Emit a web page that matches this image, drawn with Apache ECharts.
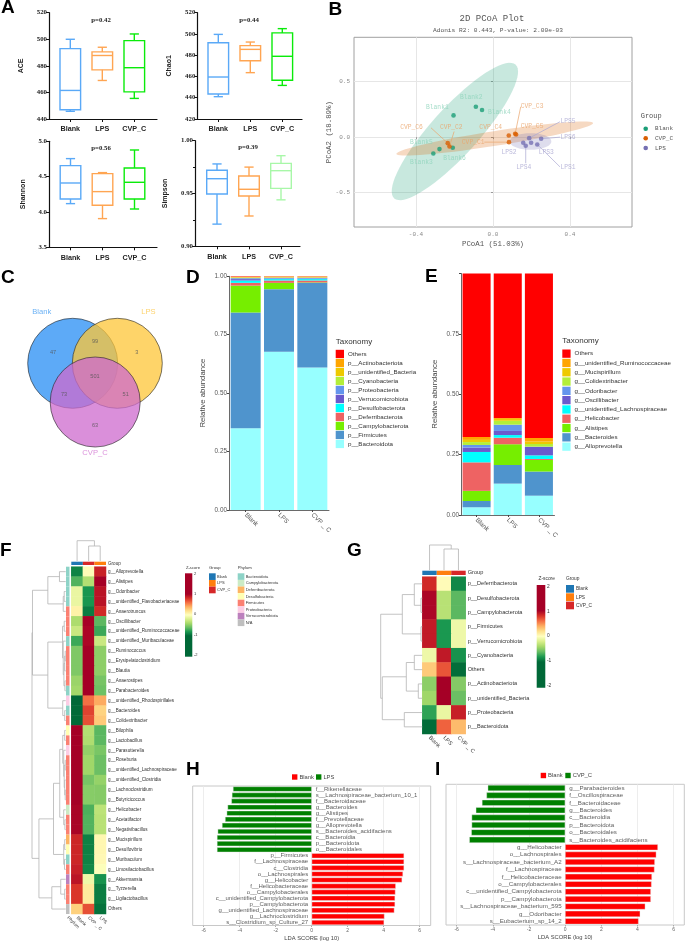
<!DOCTYPE html>
<html><head><meta charset="utf-8">
<style>html,body{margin:0;padding:0;background:#fff}#c{width:685px;height:942px}</style>
<script src="https://cdn.jsdelivr.net/npm/echarts@6/dist/echarts.min.js"></script>
</head><body><div id="c"></div>
<script>
// ---------- DATA ----------
const boxCats=['Blank','LPS','CVP_C'];
// [low, q1, median, q3, high]
const aceBoxes=[[445.8,447,461.5,493,500],[469,477,487.8,490.5,494],[455.5,460.4,478.6,499,504]];
const chaoBoxes=[[441,443.5,459.5,491.8,499.6],[463.6,474.8,485.5,489,492.4],[451.6,456.4,479,501,505]];
const shannonBoxes=[[4.118,4.184,4.41,4.656,4.755],[3.906,4.094,4.288,4.542,4.557],[4.042,4.184,4.42,4.623,4.877]];
const simpsonBoxes=[[.921,.9495,.964,.972,.978],[.9287,.9476,.954,.9666,.975],[.944,.9549,.9716,.9785,.9858]];
const pvalues=['p=0.42','p=0.44','p=0.56','p=0.39'];

const pcoaBlank=[[-.205,.196],[-.089,.274],[-.31,-.148],[-.057,.244],[-.278,-.108],[-.209,-.096]];
const pcoaCVP=[[.083,-.045],[-.226,-.084],[.115,.03],[.082,.015],[.12,.024],[-.235,-.054]];
const pcoaLPS=[[.23,-.066],[.157,-.051],[.198,-.051],[.17,-.078],[.188,-.009],[.25,-.015]];
const labelsBlank=[[-.289,.268],[-.113,.358],[-.372,-.223],[.033,.22],[-.372,-.051],[-.2,-.187]];
const labelsCVP=[[-.103,-.048],[-.217,.084],[.203,.274],[-.012,.084],[.203,.093],[-.423,.084]];
const labelsLPS=[[.39,-.268],[.083,-.133],[.277,-.136],[.16,-.268],[.39,.139],[.39,0]];
// from sample [x,y] to label edge [x,y]
const pcoaLinks=[[-.235,-.054,-.322,.084,1],[-.226,-.084,-.202,.051,1],[.115,.03,.144,.274,1],[.083,-.045,-.045,-.045,1],
 [.188,-.009,.348,.139,2],[.25,-.015,.348,0,2],[.17,-.078,.17,-.235,2],[.23,-.066,.348,-.268,2]];
// centre x,y, major tip x,y, minor tip x,y
const ellipseBlank=[-.198,.051,.117,.654,-.106,-.09];
const ellipseCVP=[.009,-.012,.52,.127,.014,-.078];
const ellipseLPS=[.195,-.039,.303,-.039,.195,-.114];

const vennCounts=[47,99,3,501,73,51,63];

const phylumNames=['p__Bacteroidota','p__Firmicutes','p__Campylobacterota','p__Deferribacterota','p__Desulfobacterota','p__Verrucomicrobiota','p__Proteobacteria','p__Cyanobacteria','p__unidentified_Bacteria','p__Actinobacteriota','Others'];
const phylumBlank=[.35,.495,.115,.012,.01,.006,.004,.002,.002,.002,.002];
const phylumLPS=[.677,.268,.027,.01,.006,.002,.004,.001,.002,.002,.001];
const phylumCVP=[.61,.362,.002,.008,.006,.002,.004,.001,.002,.002,.001];
const genusNames=['g__Alloprevotella','g__Bacteroides','g__Alistipes','g__Helicobacter','g__unidentified_Lachnospiraceae','g__Oscillibacter','g__Odoribacter','g__Colidextribacter','g__Mucispirillum','g__unidentified_Ruminococcaceae','Others'];
const genusBlank=[.032,.026,.042,.118,.043,.018,.011,.012,.009,.012,.677];
const genusLPS=[.13,.077,.086,.027,.011,.017,.026,.016,.008,.004,.598];
const genusCVP=[.08,.10,.048,.004,.015,.035,.001,.011,.01,.015,.681];
const stackCats=['Blank','LPS','CVP _ C'];

const heatFRows=['g__Alloprevotella','g__Alistipes','g__Odoribacter','g__unidentified_Flavobacteriaceae','g__Anaerotruncus','g__Oscillibacter','g__unidentified_Ruminococcaceae','g__unidentified_Muribaculaceae','g__Ruminococcus','g__Erysipelatoclostridium','g__Blautia','g__Anaerostipes','g__Parabacteroides','g__unidentified_Rhodospirillales','g__Bacteroides','g__Colidextribacter','g__Bilophila','g__Lactobacillus','g__Parasutterella','g__Roseburia','g__unidentified_Lachnospiraceae','g__unidentified_Clostridia','g__Lachnoclostridium','g__Butyricicoccus','g__Helicobacter','g__Acetatifactor','g__Negativibacillus','g__Mucispirillum','g__Desulfovibrio','g__Muribaculum','g__Limosilactobacillus','g__Akkermansia','g__Tyzzerella','g__Ligilactobacillus','Others'];
const heatFCols=['Blank','CVP _ C','LPS'];
const heatFValues=[[-1.02,.03,.99],[-.75,-.4,1.15],[-.13,-.93,1.06],[-.13,-.93,1.06],[.1,-1.05,.95],[-.43,1.14,-.72],[-.3,1.12,-.82],[-.82,1.12,-.3],[-.6,1.15,-.55],[-.6,1.15,-.55],[-.6,1.15,-.55],[-.5,1.15,-.63],[-.47,1.15,-.66],[-1.15,.68,.47],[-1.14,.85,.29],[-1.14,.8,.33],[1.15,-.4,-.73],[1.15,-.42,-.72],[1.15,-.53,-.62],[1.15,-.48,-.67],[1.15,-.48,-.67],[1.15,-.63,-.52],[1.15,-.57,-.58],[1.15,-.57,-.58],[1.13,-.77,-.36],[1.13,-.75,-.38],[1.13,-.75,-.38],[.97,-1.03,.06],[.97,-1.03,.06],[.97,-1.02,.05],[1,-.99,-.02],[1.05,-.1,-.95],[.9,.15,-1.05],[.9,.15,-1.05],[.3,.8,-1.1]];
const heatFPhylum=[0,0,0,0,4,4,4,0,4,4,4,4,0,5,0,4,3,4,5,4,4,4,4,4,1,4,4,2,3,0,4,6,4,4,7];
const heatFColGroups=[0,2,1];
const treeFRows=[34,[33.5,[18,[6.3,0,1],[2.5,[1.5,2,3],4]],[18,[3.2,[1.5,5,6],[2.5,7,[1.8,[1,[.5,8,9],10],[.8,11,12]]]],[3,13,[1,14,15]]]],[27,[12.3,[6,[3,[1,16,17],[2,18,[1.5,[.5,19,20],[1,21,[.5,22,23]]]]],[2,24,[.8,25,26]]],[2,[1,27,28],[1.2,29,30]]],[14,[5,31,[1,32,33]],34]]];
const treeFCols=[20.3,0,[15,1,2]];

const heatGRows=['p__Deferribacterota','p__Desulfobacterota','p__Campylobacterota','p__Firmicutes','p__Verrucomicrobiota','p__Cyanobacteria','Others','p__Actinobacteriota','p__unidentified_Bacteria','p__Proteobacteria','p__Bacteroidota'];
const heatGCols=['Blank','LPS','CVP _ C'];
const heatGValues=[[.95,.03,-1],[1.12,-.38,-.72],[1.12,-.38,-.72],[1.02,-.92,-.1],[1.02,-.92,-.1],[-.1,1.03,-.95],[.33,.78,-1.12],[-.55,1.15,-.58],[-.48,1.15,-.67],[-.86,-.13,1],[-1.13,.73,.4]];
const heatGColGroups=[0,1,2];
const treeGRows=[41.6,[20,[8,0,[1.3,1,2]],[1.3,3,4]],[40,[16,[8,5,6],[4,7,8]],[18,9,10]]];
const treeGCols=[25,0,[21,1,2]];

const groupNames=['Blank','LPS','CVP_C'];
const phylaLegend=['Bacteroidota','Campylobacterota','Deferribacterota','Desulfobacteria','Firmicutes','Proteobacteria','Verrucomicrobiota','N/A'];
const zTicks=[2,1,0,-1,-2];

const ldaHNames=['f__Rikenellaceae','s__Lachnospiraceae_bacterium_10_1','f__Bacteroidaceae','g__Bacteroides','g__Alistipes','f__Prevotellaceae','g__Alloprevotella','s__Bacteroides_acidifaciens','c__Bacteroidia','p__Bacteroidota','o__Bacteroidales','p__Firmicutes','f__Lachnospiraceae','c__Clostridia','o__Lachnospirales','g__Helicobacter','f__Helicobacteraceae','o__Campylobacterales','c__unidentified_Campylobacterota','p__Campylobacterota','g__unidentified_Lachnospiraceae','g__Lachnoclostridium','s__Clostridium_sp_Culture_27'];
const ldaHValues=[-4.37,-4.43,-4.46,-4.67,-4.72,-4.81,-4.98,-5.22,-5.26,-5.26,-5.26,5.13,5.13,5.13,5.07,5.02,4.67,4.65,4.63,4.63,4.59,4.04,4.02];
const ldaINames=['g__Parabacteroides','f__Oscillospiraceae','f__Bacteroidaceae','g__Bacteroides','c__Bacteroidia','p__Bacteroidota','o__Bacteroidales','s__Bacteroides_acidifaciens','g__Helicobacter','o__Lachnospirales','s__Lachnospiraceae_bacterium_A2','f__Lachnospiraceae','f__Helicobacteraceae','o__Campylobacterales','c__unidentified_Campylobacterota','p__Campylobacterota','s__Lachnospiraceae_bacterium_595','g__Odoribacter','s__Eubacterium_sp_14_2'];
const ldaIValues=[-4.28,-4.35,-4.6,-4.94,-5.17,-5.17,-5.19,-5.3,5.13,5.04,4.96,4.94,4.8,4.78,4.74,4.74,4.43,4.15,4.06];
const ldaTicks=[-6,-4,-2,0,2,4,6];

// ---------- STYLE ----------
const SANS='"Liberation Sans",Arial,sans-serif', SERIF='"Liberation Serif",serif', MONO='"Liberation Mono",monospace';
const boxBlue='#5aa9f7', boxOrange='#ffa552', boxGreen='#0aeb0a', boxPale='#a8f7a8';
const taxaColors=['#97FFFF','#4F94CD','#76EE00','#EE6363','#00FFFF','#6A5ACD','#6495ED','#B3EE3A','#EEC900','#FFA500','#FF0000'];
const phylaColors=['#8dd3c7','#ccebc5','#fdb462','#ffffb3','#fb8072','#fccde5','#bc80bd','#bfbfbf'];
const groupColors=['#1f77b4','#ff7f0e','#d62728'];
const zColors=['#006837','#1a9850','#66bd63','#a6d96a','#d9ef8b','#ffffbf','#fee08b','#fdae61','#f46d43','#d73027','#a50026'];
const pTeal='#1b9e77',pOrange='#d95f02',pPurple='#7570b3';
const pTealL='#8fd4bb',pOrangeL='#eaa56c',pPurpleL='#aaa7d2';

const grids=[],xAxes=[],yAxes=[],series=[],graphic=[];
function panel(r,x,y){const i=grids.length;
 grids.push(Object.assign({left:r[0],top:r[1],width:r[2]-r[0],height:r[3]-r[1]},r[4]||{}));
 x.gridIndex=i;y.gridIndex=i;xAxes.push(x);yAxes.push(y);return i;}
function add(g,s){s.xAxisIndex=g;s.yAxisIndex=g;s.animation=false;series.push(s);return series.length-1;}
function txt(x,y,t,font,fill,align,rot){graphic.push({type:'text',x:x,y:y,rotation:rot||0,silent:true,style:{text:t,font:font,fill:fill||'#333',textAlign:align||'left',textVerticalAlign:'middle'}});}
function sw(x,y,w,h,c){graphic.push({type:'rect',shape:{x:x,y:y,width:w,height:h},silent:true,style:{fill:c}});}
const hidden=(min,max,inv)=>({type:'value',show:false,min:min,max:max,inverse:!!inv});

// ---------- A: box plots ----------
function boxPanel(b,name,nameGap,vals,min,max,ticks,colors,minor){
 const sp=32,xmin=(b.l-b.x0)/sp,xmax=(b.r-b.x0)/sp;
 const al={lineStyle:{color:'#111',width:1.2}};
 const g=panel([b.l,b.t,b.r,b.b],
  {type:'value',min:xmin,max:xmax,splitLine:{show:false},axisLine:Object.assign({onZero:false},al),
   axisTick:{customValues:[0,1,2],length:3,lineStyle:{color:'#111',width:1}},
   axisLabel:{customValues:[0,1,2],formatter:v=>boxCats[Math.round(v)],fontFamily:SANS,fontWeight:'bold',fontSize:7.2,color:'#222',margin:7,hideOverlap:false,showMinLabel:true,showMaxLabel:true}},
  {type:'value',min:min,max:max,interval:ticks,splitLine:{show:false},
   axisLine:Object.assign({show:true,onZero:false},al),axisTick:{show:true,length:3,lineStyle:{color:'#111',width:1}},
   minorTick:minor?{show:true,splitNumber:2,length:2,lineStyle:{color:'#111'}}:{show:false},
   axisLabel:{fontFamily:SERIF,fontWeight:'bold',fontSize:6.8,color:'#222',margin:2,
     formatter:v=>ticks<0.5&&ticks>0.01?v.toFixed(2):(ticks===0.5?v.toFixed(1):String(v))},
   name:name,nameLocation:'middle',nameGap:nameGap,nameRotate:90,nameMoveOverlap:false,nameTextStyle:{fontFamily:SANS,fontWeight:'bold',fontSize:7,color:'#222'}});
 add(g,{type:'custom',encode:{x:0,y:[1,2,3,4,5]},data:vals.map((v,i)=>[i].concat(v)),clip:false,
  renderItem:(p,api)=>{const i=api.value(0),c=colors[i],st={stroke:c,lineWidth:1.4,fill:null};
   const P=k=>api.coord([i,api.value(k)]);const lo=P(1),q1=P(2),m=P(3),q3=P(4),hi=P(5),x=lo[0],bw=10.3,cw=4.6;
   const ln=(x1,y1,x2,y2)=>({type:'line',shape:{x1,y1,x2,y2},style:st});
   return {type:'group',children:[
    {type:'rect',shape:{x:x-bw,y:q3[1],width:2*bw,height:q1[1]-q3[1]},style:st},
    ln(x-bw,m[1],x+bw,m[1]),ln(x,q3[1],x,hi[1]),ln(x,q1[1],x,lo[1]),ln(x-cw,hi[1],x+cw,hi[1]),ln(x-cw,lo[1],x+cw,lo[1])]};}});
}
const cols3=[boxBlue,boxOrange,boxGreen];
boxPanel({l:49,r:157,t:12.7,b:119,x0:70.3},'ACE',24,aceBoxes,440,520,20,cols3);
boxPanel({l:197.3,r:302,t:12.7,b:119,x0:218.3},'Chao1',25,chaoBoxes,420,520,20,cols3);
boxPanel({l:49,r:157,t:141.3,b:247.3,x0:70.5},'Shannon',22,shannonBoxes,3.5,5,.5,cols3);
boxPanel({l:195,r:300,t:140.7,b:246.3,x0:217},'Simpson',26,simpsonBoxes,.9,1,.05,[boxBlue,boxOrange,boxPale],true);
txt(101,20,pvalues[0],'bold 6.8px '+SERIF,'#222','center');
txt(249,20,pvalues[1],'bold 6.8px '+SERIF,'#222','center');
txt(101,148,pvalues[2],'bold 6.8px '+SERIF,'#222','center');
txt(248,147,pvalues[3],'bold 6.8px '+SERIF,'#222','center');

// ---------- B: PCoA ----------
const gridStyle={show:true,lineStyle:{color:'#e6e6e6',width:1}};
const gB=panel([354,37.3,632,227,{show:true,borderColor:'#a0a0a0',borderWidth:1}],
 {type:'value',min:-.722,max:.722,axisLine:{show:false},axisTick:{customValues:[-.4,0,.4],show:true,length:2,lineStyle:{color:'#999'}},
  splitLine:Object.assign({customValues:[-.4,0,.4]},gridStyle),
  axisLabel:{customValues:[-.4,0,.4],formatter:v=>v.toFixed(1),fontFamily:MONO,fontSize:6,color:'#888',margin:4},
  name:'PCoA1 (51.03%)',nameLocation:'middle',nameGap:14,nameMoveOverlap:false,nameTextStyle:{fontFamily:MONO,fontSize:7.4,color:'#555'}},
 {type:'value',min:-.81,max:.9,axisLine:{show:false},axisTick:{customValues:[-.5,0,.5],show:true,length:2,lineStyle:{color:'#999'}},
  splitLine:Object.assign({customValues:[-.5,0,.5]},gridStyle),
  axisLabel:{customValues:[-.5,0,.5],formatter:v=>v.toFixed(1),fontFamily:MONO,fontSize:6,color:'#888',margin:4},
  name:'PCoA2 (18.89%)',nameLocation:'middle',nameGap:21,nameRotate:90,nameMoveOverlap:false,nameTextStyle:{fontFamily:MONO,fontSize:7.4,color:'#555'}});
[[ellipseBlank,pTeal],[ellipseCVP,pOrange],[ellipseLPS,pPurple]].forEach(e=>{
 add(gB,{type:'custom',data:[e[0]],encode:{x:[0,2,4],y:[1,3,5]},silent:true,z:1,renderItem:(p,api)=>{
  const v=[0,1,2,3,4,5].map(k=>api.value(k)),pts=[];
  for(let t=0;t<72;t++){const a=t/72*2*Math.PI,c=Math.cos(a),s=Math.sin(a);
   pts.push(api.coord([v[0]+c*(v[2]-v[0])+s*(v[4]-v[0]),v[1]+c*(v[3]-v[1])+s*(v[5]-v[1])]));}
  return {type:'polygon',shape:{points:pts},style:{fill:e[1],opacity:.24}};}});
});
const linkCols=[pTealL,pOrangeL,pPurpleL];
add(gB,{type:'custom',data:pcoaLinks,encode:{x:[0,2],y:[1,3]},silent:true,z:2,renderItem:(p,api)=>{
 const a=api.coord([api.value(0),api.value(1)]),b=api.coord([api.value(2),api.value(3)]);
 return {type:'line',shape:{x1:a[0],y1:a[1],x2:b[0],y2:b[1]},style:{stroke:linkCols[api.value(4)],lineWidth:.7}};}});
[[pcoaBlank,labelsBlank,pTeal,pTealL,'Blank'],[pcoaCVP,labelsCVP,pOrange,pOrangeL,'CVP_C'],[pcoaLPS,labelsLPS,pPurple,pPurpleL,'LPS']].forEach(s=>{
 add(gB,{type:'scatter',name:'pcoa '+s[4],data:s[0],symbolSize:4.6,itemStyle:{color:s[2]},z:4});
 add(gB,{type:'scatter',data:s[1].map((v,i)=>({value:v,name:s[4]+(i+1)})),symbolSize:0,z:5,silent:true,
  label:{show:true,position:'inside',formatter:'{b}',fontFamily:MONO,fontSize:6.3,color:s[3]}});
});
txt(492,19,'2D PCoA Plot','9px '+MONO,'#555','center');
txt(498,30.5,'Adonis R2: 0.443, P-value: 2.00e-03','6.2px '+MONO,'#555','center');
txt(640.7,116,'Group','7px '+MONO,'#555');
[['Blank',pTeal,128.7],['CVP_C',pOrange,138.3],['LPS',pPurple,148]].forEach(s=>{
 graphic.push({type:'circle',shape:{cx:645.7,cy:s[2],r:2.3},silent:true,style:{fill:s[1]}});
 txt(655,s[2],s[0],'6px '+MONO,'#555');});

// ---------- C: Venn ----------
const gC=panel([0,300,190,470],hidden(0,190),hidden(300,470,true));
[[72.7,363.3,'rgb(39,142,244)'],[117.3,363.3,'rgb(253,198,55)'],[95.2,402,'rgb(206,105,206)']].forEach(c=>{
 add(gC,{type:'scatter',data:[[c[0],c[1]]],symbolSize:90,silent:true,clip:false,itemStyle:{color:c[2],opacity:.75,borderColor:'#222',borderWidth:.8}});
});
const vennAt=[[53,352.3],[95,341],[136.7,352.3],[95,376.7],[64,394.7],[125.7,394.7],[95,425]];
add(gC,{type:'scatter',symbolSize:0,silent:true,z:6,data:vennCounts.map((n,i)=>({value:vennAt[i],name:String(n)})),
 label:{show:true,position:'inside',formatter:'{b}',fontFamily:SANS,fontSize:5.6,color:'#555'}});
txt(41.7,312,'Blank','7.6px '+SANS,'#6cb2f5','center');
txt(148.5,312,'LPS','7.6px '+SANS,'#fdd36e','center');
txt(95,453,'CVP_C','7.6px '+SANS,'#dc93dc','center');

// ---------- D, E: stacks ----------
function stackPanel(rect,names,arrs,stack,barW,yName,nameGap,showTop){
 const g=panel(rect,
  {type:'category',data:stackCats,axisLine:{lineStyle:{color:'#444',width:.8}},axisTick:{show:true,length:2,alignWithLabel:true,lineStyle:{color:'#444'}},
   axisLabel:{rotate:-45,interval:0,fontFamily:SANS,fontSize:6.4,color:'#555',margin:4}},
  {type:'value',min:0,max:1,interval:.25,splitLine:{show:false},axisLine:{show:true,lineStyle:{color:'#444',width:.8}},axisTick:{show:true,length:2,lineStyle:{color:'#444'}},
   axisLabel:{fontFamily:SANS,fontSize:6.4,color:'#555',margin:2,formatter:v=>(!showTop&&v===1)?'':v.toFixed(2)},
   name:yName,nameLocation:'middle',nameGap:nameGap,nameRotate:90,nameMoveOverlap:false,nameTextStyle:{fontFamily:SANS,fontSize:7.8,color:'#444'}});
 names.forEach((n,i)=>add(g,{type:'bar',name:n,stack:stack,barWidth:barW,data:arrs.map(a=>a[i]),itemStyle:{color:taxaColors[i]},silent:true}));
}
stackPanel([229,276.3,329,510],phylumNames,[phylumBlank,phylumLPS,phylumCVP],'D','90%','Relative abundance',22,true);
stackPanel([461,273.5,554.5,515],genusNames,[genusBlank,genusLPS,genusCVP],'E','90%','Relative abundance',22,false);
const taxLegend=(names,left,top,gap)=>({left:left,top:top,orient:'vertical',itemWidth:8.3,itemHeight:8.3,itemGap:gap,padding:0,icon:'rect',selectedMode:false,
 data:names.slice().reverse(),textStyle:{fontFamily:SANS,fontSize:6.2,color:'#333',padding:[0,0,0,-1]}});
txt(335.7,342,'Taxonomy','8px '+SANS,'#333');
txt(562.3,341,'Taxonomy','8px '+SANS,'#333');

// ---------- F, G: heat maps ----------
function treeSegs(n,out){ if(typeof n==='number') return {h:0,p:n+.5};
 const a=treeSegs(n[1],out),b=treeSegs(n[2],out);
 out.push([a.h,a.p,n[0],a.p],[b.h,b.p,n[0],b.p],[n[0],a.p,n[0],b.p]);
 return {h:n[0],p:(a.p+b.p)/2};}
const segRender=(p,api)=>{const a=api.coord([api.value(0),api.value(1)]),b=api.coord([api.value(2),api.value(3)]);
 return {type:'line',shape:{x1:a[0],y1:a[1],x2:b[0],y2:b[1]},style:{stroke:'#b4b4b4',lineWidth:.8}};};
const cellRender=pal=>(p,api)=>{const c=api.coord([api.value(0),api.value(1)]),s=api.size([1,1]);
 return {type:'rect',shape:{x:c[0]-s[0]/2,y:c[1]-s[1]/2,width:s[0],height:s[1]},style:{fill:pal[api.value(2)]}};};
const offAxis=(d)=>({type:'category',data:d,show:false});
const heatIdx=[];
function heatPanel(c){
 const rows=c.rows,cols=c.cols,n=rows.length;
 const g=panel([c.x0,c.y0,c.x1,c.y1],
  {type:'category',data:cols,axisLine:{show:false},axisTick:{show:false},axisLabel:{rotate:-45,interval:0,fontFamily:SANS,fontSize:c.fs,color:'#444',margin:3}},
  {type:'category',data:rows,inverse:true,position:'right',axisLine:{show:false},axisTick:{show:false},axisLabel:{interval:0,fontFamily:SANS,fontSize:c.fs,color:'#333',margin:c.mg}});
 const d=[];c.vals.forEach((r,y)=>r.forEach((v,x)=>d.push([x,y,v])));
 heatIdx.push(add(g,{type:'heatmap',data:d,silent:true,progressive:0}));
 // group strip
 const gs=panel([c.x0,c.ay0,c.x1,c.ay1],offAxis(cols),
  {type:'category',data:['Group'],position:'right',axisLine:{show:false},axisTick:{show:false},axisLabel:{fontFamily:SANS,fontSize:c.fs,color:'#333',margin:c.mg}});
 add(gs,{type:'custom',data:c.colGroups.map((k,i)=>[i,0,k]),encode:{x:0,y:1},silent:true,renderItem:cellRender(groupColors)});
 // column tree
 const cs=[];treeSegs(c.colTree,cs);
 const gt=panel([c.x0,c.ty0,c.x1,c.ty1],hidden(0,3),hidden(0,c.colTree[0]));
 add(gt,{type:'custom',data:cs.map(s=>[s[1],s[0],s[3],s[2]]),encode:{x:[0,2],y:[1,3]},silent:true,clip:false,renderItem:segRender});
 // row tree
 const rs=[];treeSegs(c.rowTree,rs);
 const gr=panel([c.rx0,c.y0,c.rx1,c.y1],hidden(0,c.rowTree[0],true),hidden(0,n,true));
 add(gr,{type:'custom',data:rs,encode:{x:[0,2],y:[1,3]},silent:true,clip:false,renderItem:segRender});
}
heatPanel({rows:heatFRows,cols:heatFCols,vals:heatFValues,colGroups:heatFColGroups,colTree:treeFCols,rowTree:treeFRows,
 x0:71.3,x1:106,y0:566.7,y1:914,ay0:561.7,ay1:565,ty0:540.7,ty1:561,rx0:32,rx1:65.7,fs:4.6,mg:2});
const gPh=panel([66,566.7,69.5,914],
 {type:'category',data:['Phylum'],axisLine:{show:false},axisTick:{show:false},axisLabel:{rotate:-45,fontFamily:SANS,fontSize:4.6,color:'#444',margin:3}},
 {type:'category',data:heatFRows,inverse:true,show:false});
add(gPh,{type:'custom',data:heatFPhylum.map((k,i)=>[0,i,k]),encode:{x:0,y:1},silent:true,renderItem:cellRender(phylaColors)});
heatPanel({rows:heatGRows,cols:heatGCols,vals:heatGValues,colGroups:heatGColGroups,colTree:treeGCols,rowTree:treeGRows,
 x0:422.3,x1:465.7,y0:576.7,y1:734,ay0:570.7,ay1:575,ty0:545,ty1:570,rx0:380.7,rx1:422.3,fs:5.6,mg:2});
function colorbar(x,y,w,h,labY,labX,fs){
 graphic.push({type:'rect',shape:{x:x,y:y,width:w,height:h},silent:true,style:{fill:{type:'linear',x:0,y:0,x2:0,y2:1,colorStops:[
  {offset:0,color:'#a50026'},{offset:.25,color:'#a50026'},{offset:.3,color:'#d73027'},{offset:.35,color:'#f46d43'},{offset:.4,color:'#fdae61'},{offset:.45,color:'#fee08b'},{offset:.5,color:'#ffffbf'},
  {offset:.55,color:'#d9ef8b'},{offset:.6,color:'#a6d96a'},{offset:.65,color:'#66bd63'},{offset:.7,color:'#1a9850'},{offset:.75,color:'#006837'},{offset:1,color:'#006837'}]}}});
 zTicks.forEach((t,i)=>txt(labX,labY[i],String(t),fs+'px '+SANS,'#333'));
}
colorbar(185,573.3,7.3,83.4,[574.3,594.3,614.3,634.7,655],194,4);
txt(193,568,'Z-score','4.2px '+SANS,'#333','center');
txt(209,568,'Group','4.2px '+SANS,'#333');
groupNames.forEach((n,i)=>{sw(209,573.3+i*6.67,6.67,6.67,groupColors[i]);txt(217,576.7+i*6.67,n,'4px '+SANS,'#333');});
txt(237.7,568,'Phylum','4.2px '+SANS,'#333');
phylaLegend.forEach((n,i)=>{sw(237.7,573.3+i*6.6,6.67,6.6,phylaColors[i]);txt(245.7,576.7+i*6.6,n,'4px '+SANS,'#333');});
colorbar(536.7,585,8.6,102.7,[586.7,611.3,636,661,685.7],547,4.8);
txt(546.7,578.7,'Z-score','4.8px '+SANS,'#333','center');
txt(566,578.7,'Group','4.8px '+SANS,'#333');
groupNames.forEach((n,i)=>{sw(566,585+i*8.3,8,7.7,groupColors[i]);txt(576,589+i*8.3,n,'4.8px '+SANS,'#333');});

// ---------- H, I: LDA ----------
function ldaPanel(r,names,vals,xr,barW,fs,sx){
 const g=panel([r[0],r[1],r[2],r[3],{show:true,borderColor:'#c8c8c8',borderWidth:1}],
  {type:'value',min:-xr,max:xr,axisLine:{show:false},axisTick:{customValues:ldaTicks,show:true,length:1.5,lineStyle:{color:'#aaa'}},
   splitLine:{show:true,customValues:ldaTicks,lineStyle:{color:'#e8e8e8',width:.8}},
   axisLabel:{customValues:ldaTicks,fontFamily:SANS,fontSize:5,color:'#666',margin:2.5},
   name:'LDA SCORE (log 10)',nameLocation:'middle',nameGap:9.5,nameMoveOverlap:false,nameTextStyle:{fontFamily:SANS,fontSize:5.8,color:'#444'}},
  {type:'category',data:names,inverse:true,show:false});
 add(g,{type:'bar',name:'lda '+sx,stack:'l'+sx,barWidth:barW,silent:true,data:vals.map(v=>({value:v,itemStyle:{color:v<0?'#008000':'#ff0000',borderColor:'#e8e8e8',borderWidth:.4}}))});
 add(g,{type:'scatter',symbolSize:0,silent:true,z:6,data:vals.map((v,i)=>({value:[0,i],name:names[i],
   label:{show:true,position:v<0?'right':'left',distance:v<0?4:3.5,formatter:'{b}',fontFamily:SANS,fontSize:fs,color:'#333'}}))});
}
ldaPanel([192.7,786,430.7,928.3],ldaHNames,ldaHValues,6.61,5,6,'H');
ldaPanel([446,784.3,684.3,925],ldaINames,ldaIValues,6.59,6,6.2,'I');
function ldaKey(x1,x2,y,a,b){sw(x1,y-2.7,5.4,5.4,'#ff0000');txt(x1+7.4,y,a,'5.8px '+SANS,'#444');sw(x2,y-2.7,5.4,5.4,'#008000');txt(x2+7.4,y,b,'5.8px '+SANS,'#444');}
ldaKey(292,316,777,'Blank','LPS');
ldaKey(540.7,565.3,775.5,'Blank','CVP_C');

// ---------- panel letters ----------
[['A',1,8],['B',328.5,10],['C',1,278],['D',186,278],['E',425,277],['F',0,551],['G',347,551],['H',186,770],['I',435,770]]
 .forEach(l=>txt(l[1],l[2],l[0],'bold 19px '+SANS,'#000'));

const chart=echarts.init(document.getElementById('c'),null,{renderer:'canvas'});
chart.setOption({animation:false,backgroundColor:'#fff',grid:grids,xAxis:xAxes,yAxis:yAxes,series:series,graphic:{elements:graphic},
 legend:[taxLegend(phylumNames,335.7,349.8,.7),taxLegend(genusNames,562.3,349.5,1)],
 tooltip:{show:false},
 visualMap:[{type:'continuous',show:false,seriesIndex:heatIdx,dimension:2,min:-1.15,max:1.15,inRange:{color:zColors}}]});
</script></body></html>
